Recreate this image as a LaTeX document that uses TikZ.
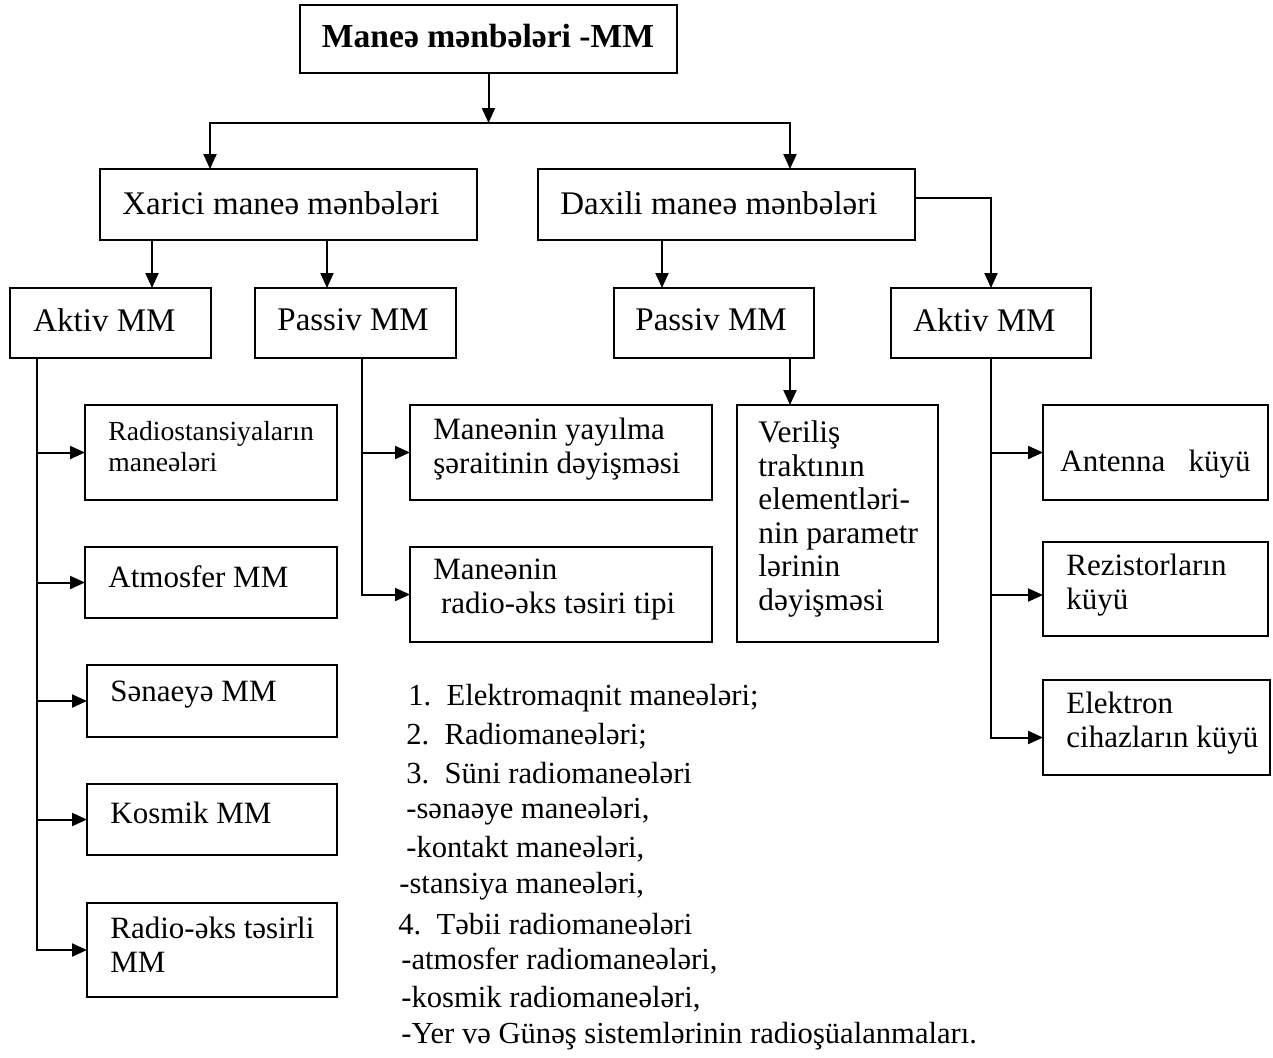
\documentclass[tikz,border=0pt]{standalone}
\usepackage{fontspec}
\setmainfont{Liberation Serif}
\usetikzlibrary{arrows.meta}
\newcommand\mkbox[5]{\node[box, minimum width={(#4-#2)*0.5pt}, minimum height={(#5-#3)*0.5pt}] (#1) at ({(#2+#4)/2},{(#3+#5)/2}) {};}
\tikzset{
  box/.style={draw, line width=1pt, inner sep=0pt, outer sep=0pt, rectangle},
  arr/.style={-{Triangle[length=7.5pt,width=6.5pt]}, line width=1pt},
  arrboth/.style={{Triangle[length=7.5pt,width=6.5pt]}-{Triangle[length=7.5pt,width=6.5pt]}, line width=1pt},
  tx/.style={inner sep=0pt, anchor=west, align=left, font=\fontsize{15.5}{17}\selectfont},
  big/.style={tx, font=\fontsize{16.5}{19}\selectfont},
  sm/.style={tx, font=\fontsize{13.8}{15.5}\selectfont},
  lst/.style={tx, font=\fontsize{15.3}{18}\selectfont},
}
\begin{document}
\begin{tikzpicture}[x=0.5pt, y=-0.5pt]
\fill[white] (0,0) rectangle (1273,1057);
\useasboundingbox (0,0) rectangle (1273,1057);

% boxes
\mkbox{title}{300}{5}{677}{73}
\mkbox{xar}{100}{169}{477}{240}
\mkbox{dax}{538}{169}{915}{240}
\mkbox{aktL}{10}{288}{211}{358}
\mkbox{pasL}{255}{288}{456}{358}
\mkbox{pasR}{614}{288}{814}{358}
\mkbox{aktR}{891}{288}{1091}{358}
\mkbox{rst}{85}{405}{337}{500}
\mkbox{atm}{85}{547}{337}{618}
\mkbox{sen}{87}{665}{337}{737}
\mkbox{kos}{87}{784}{337}{855}
\mkbox{rae}{87}{903}{337}{997}
\mkbox{yay}{410}{405}{712}{500}
\mkbox{rat}{410}{547}{712}{642}
\mkbox{ver}{737}{405}{938}{642}
\mkbox{ant}{1043}{405}{1268}{500}
\mkbox{rez}{1043}{542}{1268}{636}
\mkbox{ele}{1043}{680}{1270}{775}

% texts
\node[tx, anchor=center, font=\bfseries\fontsize{16.8}{20}\selectfont] (ttitle) at (488,36) {Maneə mənbələri -MM};
\node[big] (txar) at (122,203) {Xarici maneə mənbələri};
\node[big] (tdax) at (560,203) {Daxili maneə mənbələri};
\node[big] (taktL) at (33,320) {Aktiv MM};
\node[big] (tpasL) at (277,320) {Passiv MM};
\node[big] (tpasR) at (635,320) {Passiv MM};
\node[big] (taktR) at (913,320) {Aktiv MM};
\node[sm] (trst) at (108,447) {Radiostansiyaların\\maneələri};
\node[tx] (tatm) at (108,577) {Atmosfer MM};
\node[tx] (tsen) at (110,695) {Sənaeyə MM};
\node[tx] (tkos) at (110,813) {Kosmik MM};
\node[tx] (trae) at (110,945) {Radio-əks təsirli\\MM};
\node[tx] (tyay) at (433,449) {Maneənin yayılma\\şəraitinin dəyişməsi};
\node[tx] (trat) at (433,590) {Maneənin\\\hspace*{0.25em}radio-əks təsiri tipi};
\node[tx, font=\fontsize{15.7}{16.8}\selectfont] (tver) at (758,519) {Veriliş\\traktının\\elementləri-\\nin parametr\\lərinin\\dəyişməsi};
\node[tx] (tant) at (1060,464) {Antenna\ \ \ küyü};
\node[tx] (trez) at (1066,585) {Rezistorların\\küyü};
\node[tx] (tele) at (1066,723) {Elektron\\cihazların küyü};

% list
\node[lst] (l1) at (408,698) {1.\ \ Elektromaqnit maneələri;};
\node[lst] (l2) at (406,736) {2.\ \ Radiomaneələri;};
\node[lst] (l3) at (406,773) {3.\ \ Süni radiomaneələri};
\node[lst] (l4) at (406,811) {-sənaəye maneələri,};
\node[lst] (l5) at (406,849) {-kontakt maneələri,};
\node[lst] (l6) at (399,886) {-stansiya maneələri,};
\node[lst] (l7) at (398,924) {4.\ \ Təbii radiomaneələri};
\node[lst] (l8) at (401,961) {-atmosfer radiomaneələri,};
\node[lst] (l9) at (401,999) {-kosmik radiomaneələri,};
\node[lst] (l10) at (401,1036) {-Yer\ və Günəş sistemlərinin radioşüalanmaları.};

% connectors
\coordinate (bL) at (210,123);
\coordinate (bR) at (790,123);
\draw[arr] (title.south) -- (title.south |- bL);
\draw[arrboth] (bL |- xar.north) -- (bL) -- (bR) -- (bR |- dax.north);

\coordinate (c1) at (152,0);
\coordinate (c2) at (327,0);
\coordinate (c3) at (662,0);
\coordinate (c5) at (0,198);
\draw[arr] (xar.south -| c1) -- (aktL.north -| c1);
\draw[arr] (xar.south -| c2) -- (pasL.north -| c2);
\draw[arr] (dax.south -| c3) -- (pasR.north -| c3);
\draw[arr] (dax.east |- c5) -| (aktR.north);
\draw[arr] (pasR.south -| bR) -- (ver.north -| bR);

\coordinate (vL) at (37,0);
\draw[arr] (aktL.south -| vL) |- (rae.west);
\draw[arr] (rst.west -| vL) -- (rst.west);
\draw[arr] (atm.west -| vL) -- (atm.west);
\draw[arr] (sen.west -| vL) -- (sen.west);
\draw[arr] (kos.west -| vL) -- (kos.west);

\coordinate (vP) at (362,0);
\draw[arr] (pasL.south -| vP) |- (rat.west);
\draw[arr] (yay.west -| vP) -- (yay.west);

\coordinate (rzw) at ([yshift=-3pt]rez.west);
\coordinate (elw) at ([yshift=-5pt]ele.west);
\draw[arr] (aktR.south) |- (elw);
\draw[arr] (ant.west -| aktR.south) -- (ant.west);
\draw[arr] (rzw -| aktR.south) -- (rzw);
\end{tikzpicture}
\end{document}
